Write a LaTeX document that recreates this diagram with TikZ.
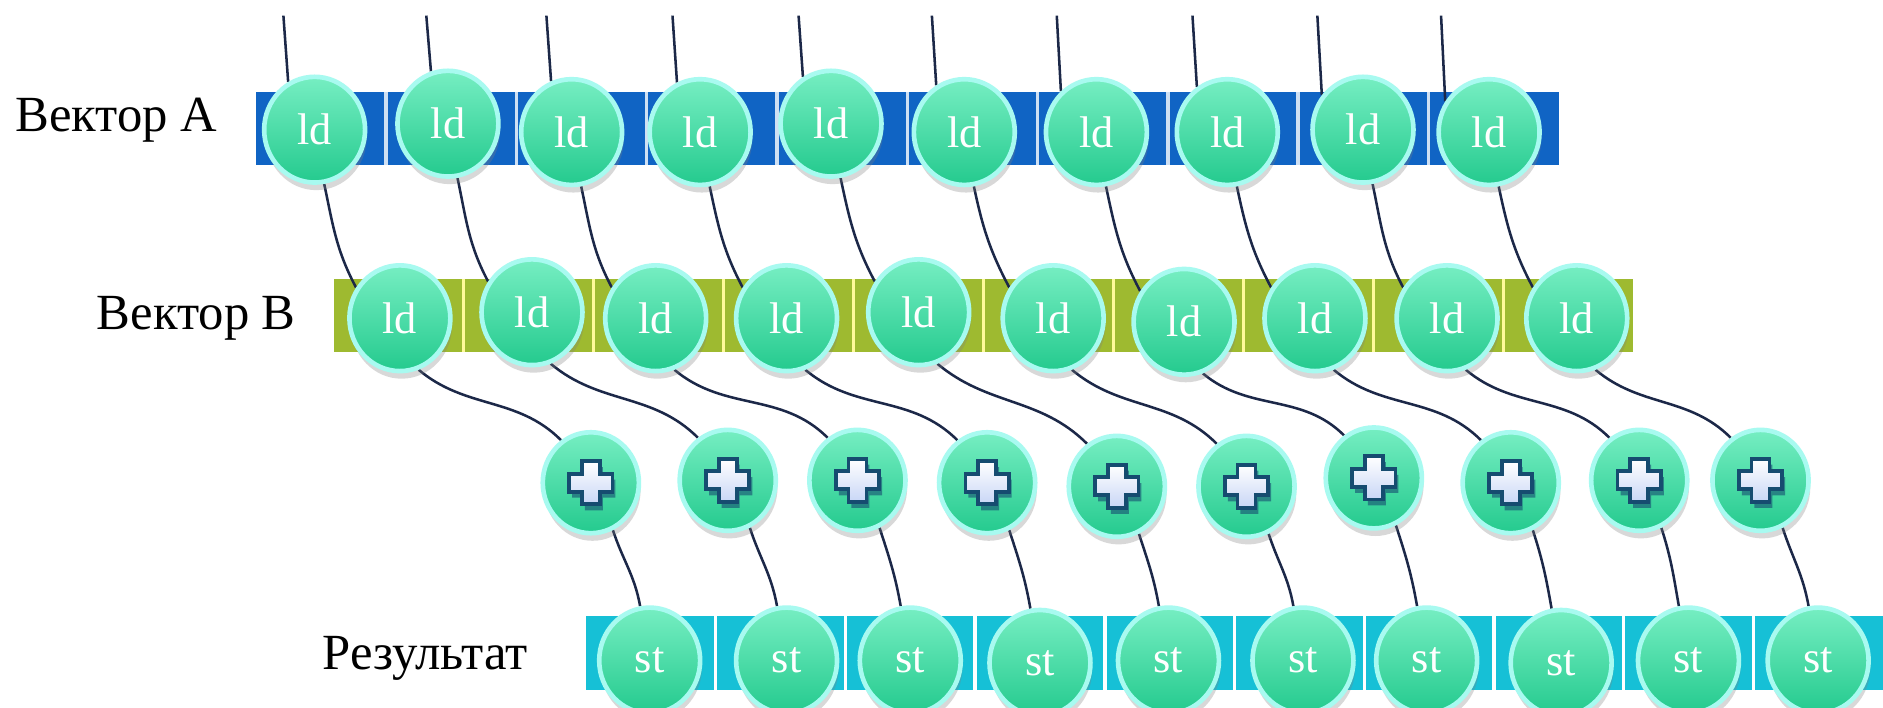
\documentclass[tikz,border=0pt]{standalone}
\usepackage{fontspec}
\setmainfont{Liberation Serif}
\usetikzlibrary{shadows,backgrounds,shapes.geometric}

\definecolor{barA}{RGB}{16,100,196}
\definecolor{barB}{RGB}{158,186,48}
\definecolor{barR}{RGB}{22,192,214}
\definecolor{ballTop}{RGB}{118,238,194}
\definecolor{ballBot}{RGB}{36,202,142}
\definecolor{ballRim}{RGB}{168,250,240}
\definecolor{wireCol}{RGB}{28,40,72}
\definecolor{crossFill}{RGB}{200,214,246}
\definecolor{crossLine}{RGB}{22,76,112}

\tikzset{
  ball/.style={ellipse, minimum width=0.84cm, minimum height=0.88cm, inner sep=0pt,
    top color=ballTop, bottom color=ballBot, draw=ballRim, line width=1.1pt,
    text=white, font=\fontsize{10.5}{10.5}\selectfont,
    drop shadow={shadow xshift=0.4pt, shadow yshift=-1.8pt, opacity=0.3}},
  plusball/.style={ball, minimum width=0.8cm, minimum height=0.84cm,
    path picture={
      \fill[crossLine, opacity=0.6] ([shift={(0.7pt,-1.4pt)}]path picture bounding box.center)
        ++(-0.075cm,0.18cm) -- ++(0.15cm,0) -- ++(0,-0.105cm) -- ++(0.105cm,0) -- ++(0,-0.15cm)
        -- ++(-0.105cm,0) -- ++(0,-0.105cm) -- ++(-0.15cm,0) -- ++(0,0.105cm) -- ++(-0.105cm,0)
        -- ++(0,0.15cm) -- ++(0.105cm,0) -- cycle;
      \draw[crossLine, line width=0.9pt, top color=white, bottom color=crossFill]
        (path picture bounding box.center)
        ++(-0.075cm,0.18cm) -- ++(0.15cm,0) -- ++(0,-0.105cm) -- ++(0.105cm,0) -- ++(0,-0.15cm)
        -- ++(-0.105cm,0) -- ++(0,-0.105cm) -- ++(-0.15cm,0) -- ++(0,0.105cm) -- ++(-0.105cm,0)
        -- ++(0,0.15cm) -- ++(0.105cm,0) -- cycle;}},
  wire/.style={draw=wireCol, line width=0.6pt},
  rowlabel/.style={font=\fontsize{12}{14}\selectfont, anchor=west, inner sep=0pt},
  cellsep/.style={line width=0.8pt},
}

\begin{document}
\begin{tikzpicture}[x=0.01cm,y=0.01cm]
\useasboundingbox (0,0) rectangle (1568,-589);

\node[rowlabel] (la) at (12,-100) {Вектор A};
\node[rowlabel] (lb) at (80,-265) {Вектор B};
\node[rowlabel] (lr) at (268,-548) {Результат};

\foreach \i/\x/\y/\t in {1/262/108/236, 2/373/103/355, 3/476/110/455, 4/583/110/560,
  5/692/103/665, 6/803/110/776, 7/913/110/880, 8/1022/110/993, 9/1135/108/1097, 10/1240/110/1200} {
  \node[ball] (a\i) at (\x,-\y) {ld};
  \coordinate (t\i) at (\t,-13);
}
\foreach \i/\x/\y in {1/333/265, 2/443/260, 3/546/265, 4/655/265, 5/765/260,
  6/877/265, 7/986/268, 8/1095/265, 9/1205/265, 10/1313/265}
  \node[ball] (b\i) at (\x,-\y) {ld};
\foreach \i/\x/\y in {1/492/402, 2/606/400, 3/714/400, 4/822/402, 5/930/405,
  6/1038/405, 7/1144/398, 8/1258/402, 9/1365/400, 10/1466/400}
  \node[plusball] (p\i) at (\x,-\y) {};
\foreach \i/\x/\y in {1/541/550, 2/655/550, 3/758/550, 4/866/552, 5/973/550,
  6/1085/550, 7/1188/550, 8/1300/552, 9/1406/550, 10/1514/550}
  \node[ball] (s\i) at (\x,-\y) {st};

\begin{pgfonlayer}{background}
\fill[white] (0,0) rectangle (1568,-589);
\fill[barA] (213,-77) rectangle (1298,-137);
\fill[barB] (278,-232) rectangle (1360,-293);
\fill[barR] (488,-513) rectangle (1568,-575);
\foreach \k in {1,...,9} {
  \draw[cellsep, white!80!barA] ({213+\k*108.5},-77) -- ++(0,-60);
  \draw[cellsep, yellow!40!white] ({278+\k*108.2},-232) -- ++(0,-61);
  \draw[cellsep, white] ({488+\k*108},-513) -- ++(0,-62);
}
\foreach \i/\w in {1/119, 2/108, 3/112, 4/115, 5/121, 6/121, 7/131, 8/124, 9/140, 10/145}
  \draw[wire] (t\i) -- (a\i.\w);
\foreach \i in {1,...,10} {
  \draw[wire] (a\i.-80) to[out=-78,in=118] (b\i.145);
  \draw[wire] (b\i.-70) to[out=-40,in=135] (p\i.125);
  \draw[wire] (p\i.-65) to[out=-72,in=100] (s\i.100);
}
\end{pgfonlayer}
\end{tikzpicture}
\end{document}
